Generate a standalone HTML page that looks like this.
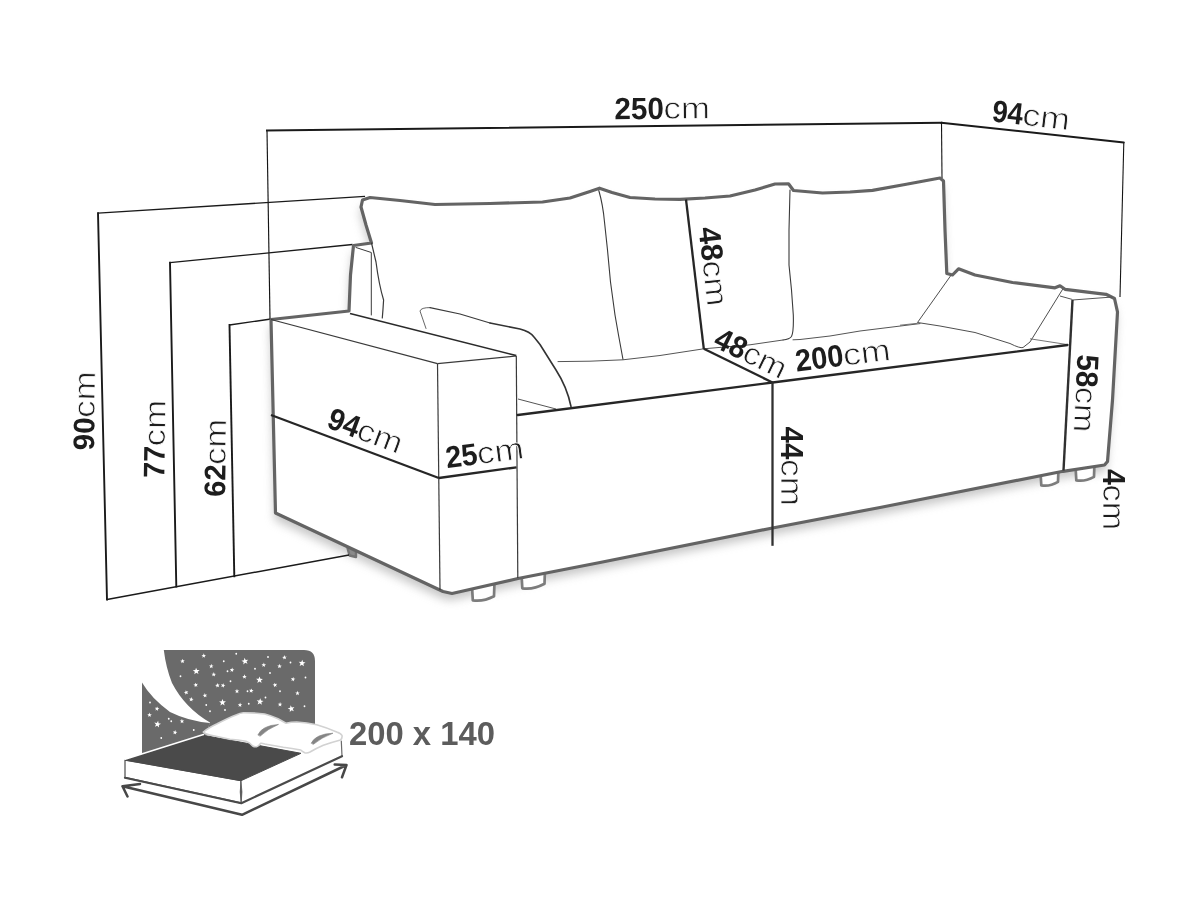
<!DOCTYPE html>
<html lang="en">
<head>
<meta charset="utf-8">
<title>Sofa dimensions</title>
<style>
html,body{margin:0;padding:0;background:#fff;}
body{width:1200px;height:900px;overflow:hidden;}
svg{display:block;will-change:transform;}
</style>
</head>
<body>
<svg width="1200" height="900" viewBox="0 0 1200 900">
<defs><filter id="blur" x="-10%" y="-10%" width="120%" height="130%"><feGaussianBlur stdDeviation="5"/></filter><filter id="blur2" x="-10%" y="-10%" width="120%" height="130%"><feGaussianBlur stdDeviation="1.2"/></filter></defs>
<polygon points="443,591.5 275.5,513 271,319.5 349,311 350.5,275 353.5,245.5 371.5,243 366,225 361,207 362.5,200 370,197.5 400,200.5 435,204.5 490,203.5 542.5,202 570,198 590,191.5 599.5,188.2 612,192.5 630,197.5 655,199 680,199.3 705,198 730,196 755,190 775,184 788.5,183.8 793.5,190.5 822.5,193 850,192 872.5,190.3 905,184.5 940,178 943.5,181 945,230 946.8,273.5 952.5,275 958.5,268.8 975,275 1012.5,282.5 1055,287.8 1060,285.8 1065,289.3 1106,294.3 1114.5,298.5 1117.5,312 1112.5,400 1107.5,461.5 1104.5,465 1063,471.3 880,507.5 772.5,528 600,562.5 518,578.5 452,593.5" transform="translate(-1,7)" fill="#9a9a9a" opacity="0.55" filter="url(#blur)"/>
<path d="M472,586 L472.8,600.3 Q483.25,601.9 494,596.3 L494.5,581" fill="#fff" stroke="#7c7c7c" stroke-width="2.7" stroke-linejoin="round" stroke-linecap="round" />
<path d="M521.5,573.5 L522.3,588.3 Q533.25,589.9 544.5,583.8 L545,568" fill="#fff" stroke="#7c7c7c" stroke-width="2.7" stroke-linejoin="round" stroke-linecap="round" />
<path d="M1040.5,472 L1041.3,485.3 Q1049.5,486.9 1058,481.8 L1058.5,467.5" fill="#fff" stroke="#7c7c7c" stroke-width="2.7" stroke-linejoin="round" stroke-linecap="round" />
<path d="M1075.5,466 L1076.3,480.3 Q1085,481.9 1094,476.8 L1094.5,461.5" fill="#fff" stroke="#7c7c7c" stroke-width="2.7" stroke-linejoin="round" stroke-linecap="round" />
<path d="M347.5,548 L349.5,555.5 L356,557 L356,552" fill="#8a8a8a" stroke="#737373" stroke-width="2.4" stroke-linejoin="round" stroke-linecap="round" />
<polygon points="443,591.5 275.5,513 271,319.5 349,311 350.5,275 353.5,245.5 371.5,243 366,225 361,207 362.5,200 370,197.5 400,200.5 435,204.5 490,203.5 542.5,202 570,198 590,191.5 599.5,188.2 612,192.5 630,197.5 655,199 680,199.3 705,198 730,196 755,190 775,184 788.5,183.8 793.5,190.5 822.5,193 850,192 872.5,190.3 905,184.5 940,178 943.5,181 945,230 946.8,273.5 952.5,275 958.5,268.8 975,275 1012.5,282.5 1055,287.8 1060,285.8 1065,289.3 1106,294.3 1114.5,298.5 1117.5,312 1112.5,400 1107.5,461.5 1104.5,465 1063,471.3 880,507.5 772.5,528 600,562.5 518,578.5 452,593.5" fill="#fff" stroke="none"/>
<line x1="267" y1="130.5" x2="270" y2="319" stroke="#151515" stroke-width="1.15" />
<line x1="1123.8" y1="142.5" x2="1120" y2="297" stroke="#151515" stroke-width="1.1" />
<line x1="267" y1="130.6" x2="941.3" y2="122.8" stroke="#1a1a1a" stroke-width="2" stroke-linecap="square"/>
<line x1="941.3" y1="122.8" x2="1123.8" y2="142.5" stroke="#1a1a1a" stroke-width="2" stroke-linecap="round"/>
<line x1="941.5" y1="122.5" x2="942" y2="178" stroke="#151515" stroke-width="1.1" />
<line x1="98" y1="213.2" x2="107" y2="599.5" stroke="#1a1a1a" stroke-width="1.9" stroke-linecap="square"/>
<line x1="170" y1="262.7" x2="176.3" y2="586.5" stroke="#1a1a1a" stroke-width="1.9" stroke-linecap="square"/>
<line x1="229.5" y1="325" x2="234.3" y2="576.3" stroke="#1a1a1a" stroke-width="1.9" stroke-linecap="square"/>
<line x1="98" y1="213.2" x2="365" y2="196.3" stroke="#1a1a1a" stroke-width="1.35" />
<line x1="170" y1="262.7" x2="352.5" y2="244.5" stroke="#1a1a1a" stroke-width="1.35" />
<line x1="229.5" y1="325" x2="271" y2="319" stroke="#1a1a1a" stroke-width="1.35" />
<line x1="107" y1="599.5" x2="349" y2="555" stroke="#1a1a1a" stroke-width="1.5" />
<polygon points="443,591.5 275.5,513 271,319.5 349,311 350.5,275 353.5,245.5 371.5,243 366,225 361,207 362.5,200 370,197.5 400,200.5 435,204.5 490,203.5 542.5,202 570,198 590,191.5 599.5,188.2 612,192.5 630,197.5 655,199 680,199.3 705,198 730,196 755,190 775,184 788.5,183.8 793.5,190.5 822.5,193 850,192 872.5,190.3 905,184.5 940,178 943.5,181 945,230 946.8,273.5 952.5,275 958.5,268.8 975,275 1012.5,282.5 1055,287.8 1060,285.8 1065,289.3 1106,294.3 1114.5,298.5 1117.5,312 1112.5,400 1107.5,461.5 1104.5,465 1063,471.3 880,507.5 772.5,528 600,562.5 518,578.5 452,593.5" fill="none" stroke="#646464" stroke-width="3.2" stroke-linejoin="round" stroke-linecap="round" />
<line x1="271" y1="319.5" x2="437.5" y2="363.6" stroke="#3a3a3a" stroke-width="1.2" />
<line x1="350" y1="313.5" x2="516.3" y2="355.6" stroke="#2a2a2a" stroke-width="1.6" />
<line x1="437.5" y1="363.6" x2="516.3" y2="356" stroke="#3a3a3a" stroke-width="1.2" />
<line x1="437.5" y1="363.6" x2="440" y2="590" stroke="#3a3a3a" stroke-width="1.2" />
<line x1="516.3" y1="356" x2="517.8" y2="578" stroke="#3a3a3a" stroke-width="1.2" />
<polyline points="356,247.5 371.3,252.5 371.3,315" fill="none" stroke="#3a3a3a" stroke-width="1" stroke-linejoin="round" stroke-linecap="round" />
<path d="M371.5,243 L376,262 Q379,285 383.6,300 Q383,310 382.3,318" fill="none" stroke="#3a3a3a" stroke-width="1.2" stroke-linejoin="round" stroke-linecap="round" />
<path d="M426,328.5 L420,311 Q421,307.5 430,307.6" fill="none" stroke="#555" stroke-width="0.9" stroke-linejoin="round" stroke-linecap="round" />
<path d="M430,307.6 L460,314 L490,323" fill="none" stroke="#3a3a3a" stroke-width="1.2" stroke-linejoin="round" stroke-linecap="round" />
<path d="M490,323 L520,329 Q530,331.5 534,337 L540,344.5 L556,370 Q567,387 571,406.5" fill="none" stroke="#333" stroke-width="1.6" stroke-linejoin="round" stroke-linecap="round" />
<path d="M598.8,190.5 Q603,205 604.5,222 L607.5,250 L610.5,282 L615,315 L618.5,335 L623,359.5" fill="none" stroke="#3a3a3a" stroke-width="1.1" stroke-linejoin="round" stroke-linecap="round" />
<path d="M558,361.6 L590,361.2 L623,359.8 L660,355.5 L703.8,348.8" fill="none" stroke="#555" stroke-width="1" stroke-linejoin="round" stroke-linecap="round" />
<line x1="518" y1="399" x2="556" y2="409" stroke="#555" stroke-width="1" />
<path d="M790,190 L789,230 L789,265 L791.5,290 L793.3,315 Q793.8,332 791.5,336.5 Q789.5,339.3 783,340" fill="none" stroke="#3a3a3a" stroke-width="1.1" stroke-linejoin="round" stroke-linecap="round" />
<path d="M703.8,348.8 L750,344.8 L783,340" fill="none" stroke="#555" stroke-width="1" stroke-linejoin="round" stroke-linecap="round" />
<path d="M793,339.8 L800,339.5 L830,336 L860,331 L920,323.6" fill="none" stroke="#555" stroke-width="1" stroke-linejoin="round" stroke-linecap="round" />
<path d="M950.5,276 L917.5,322.5 L940,326 L975,332.5 L1010,343.5 Q1020,348.5 1023,347.5 L1030,342 L1062.5,289.5" fill="none" stroke="#444" stroke-width="0.95" stroke-linejoin="round" stroke-linecap="round" />
<line x1="1030" y1="338.8" x2="1067.5" y2="344.6" stroke="#666" stroke-width="0.9" />
<line x1="900" y1="325.2" x2="917.5" y2="323.3" stroke="#666" stroke-width="0.9" />
<line x1="1072.5" y1="300" x2="1112.5" y2="297" stroke="#555" stroke-width="1" />
<line x1="1060" y1="296" x2="1072.5" y2="299.5" stroke="#555" stroke-width="1" />
<line x1="271" y1="415" x2="438.8" y2="478" stroke="#262626" stroke-width="2.3" />
<line x1="438.8" y1="478" x2="516.5" y2="467.3" stroke="#262626" stroke-width="2.3" />
<line x1="686" y1="199.5" x2="703.8" y2="348.8" stroke="#262626" stroke-width="2.3" />
<line x1="703.8" y1="348.8" x2="772.5" y2="382.5" stroke="#262626" stroke-width="2.3" />
<polyline points="517.8,415 772.5,382.5 1067.5,345" fill="none" stroke="#262626" stroke-width="2.3" stroke-linejoin="round" stroke-linecap="round" />
<line x1="772.5" y1="382.5" x2="772.5" y2="545.8" stroke="#303030" stroke-width="2.3" />
<line x1="1072.5" y1="300" x2="1063.5" y2="470.5" stroke="#303030" stroke-width="2.4" />
<g transform="translate(614.5,119.3) rotate(-0.5)"><text x="0" y="0" font-family="'Liberation Sans', Arial, sans-serif" font-size="30.8" font-weight="700" fill="#1d1d1d" textLength="49.5" lengthAdjust="spacingAndGlyphs">250</text><text x="49.1" y="0" font-family="'Liberation Sans', Arial, sans-serif" font-size="30.5" font-weight="400" fill="#1d1d1d" stroke="#fff" stroke-width="0.75" textLength="46.5" lengthAdjust="spacingAndGlyphs">cm</text></g>
<g transform="translate(991.2,121.2) rotate(6.7)"><text x="0" y="0" font-family="'Liberation Sans', Arial, sans-serif" font-size="30.8" font-weight="700" fill="#1d1d1d" textLength="31" lengthAdjust="spacingAndGlyphs">94</text><text x="30.6" y="0" font-family="'Liberation Sans', Arial, sans-serif" font-size="30.5" font-weight="400" fill="#1d1d1d" stroke="#fff" stroke-width="0.75" textLength="47.5" lengthAdjust="spacingAndGlyphs">cm</text></g>
<g transform="translate(94,450.5) rotate(-89)"><text x="0" y="0" font-family="'Liberation Sans', Arial, sans-serif" font-size="29.8" font-weight="700" fill="#1d1d1d" textLength="33" lengthAdjust="spacingAndGlyphs">90</text><text x="32.6" y="0" font-family="'Liberation Sans', Arial, sans-serif" font-size="30.5" font-weight="400" fill="#1d1d1d" stroke="#fff" stroke-width="0.75" textLength="46.5" lengthAdjust="spacingAndGlyphs">cm</text></g>
<g transform="translate(164.3,478) rotate(-89)"><text x="0" y="0" font-family="'Liberation Sans', Arial, sans-serif" font-size="29.8" font-weight="700" fill="#1d1d1d" textLength="32" lengthAdjust="spacingAndGlyphs">77</text><text x="31.6" y="0" font-family="'Liberation Sans', Arial, sans-serif" font-size="30.5" font-weight="400" fill="#1d1d1d" stroke="#fff" stroke-width="0.75" textLength="46.5" lengthAdjust="spacingAndGlyphs">cm</text></g>
<g transform="translate(225,497) rotate(-89)"><text x="0" y="0" font-family="'Liberation Sans', Arial, sans-serif" font-size="29.8" font-weight="700" fill="#1d1d1d" textLength="32.5" lengthAdjust="spacingAndGlyphs">62</text><text x="32.1" y="0" font-family="'Liberation Sans', Arial, sans-serif" font-size="30.5" font-weight="400" fill="#1d1d1d" stroke="#fff" stroke-width="0.75" textLength="46" lengthAdjust="spacingAndGlyphs">cm</text></g>
<g transform="translate(325.5,427) rotate(20.5)"><text x="0" y="0" font-family="'Liberation Sans', Arial, sans-serif" font-size="30.8" font-weight="700" fill="#1d1d1d" textLength="32" lengthAdjust="spacingAndGlyphs">94</text><text x="31.6" y="0" font-family="'Liberation Sans', Arial, sans-serif" font-size="30.5" font-weight="400" fill="#1d1d1d" stroke="#fff" stroke-width="0.75" textLength="46" lengthAdjust="spacingAndGlyphs">cm</text></g>
<g transform="translate(447,468.3) rotate(-7.5)"><text x="0" y="0" font-family="'Liberation Sans', Arial, sans-serif" font-size="30.8" font-weight="700" fill="#1d1d1d" textLength="32" lengthAdjust="spacingAndGlyphs">25</text><text x="31.6" y="0" font-family="'Liberation Sans', Arial, sans-serif" font-size="30.5" font-weight="400" fill="#1d1d1d" stroke="#fff" stroke-width="0.75" textLength="47" lengthAdjust="spacingAndGlyphs">cm</text></g>
<g transform="translate(698.5,228) rotate(83.6)"><text x="0" y="0" font-family="'Liberation Sans', Arial, sans-serif" font-size="30.8" font-weight="700" fill="#1d1d1d" textLength="34" lengthAdjust="spacingAndGlyphs">48</text><text x="33.6" y="0" font-family="'Liberation Sans', Arial, sans-serif" font-size="30.5" font-weight="400" fill="#1d1d1d" stroke="#fff" stroke-width="0.75" textLength="46" lengthAdjust="spacingAndGlyphs">cm</text></g>
<g transform="translate(712,346) rotate(26)"><text x="0" y="0" font-family="'Liberation Sans', Arial, sans-serif" font-size="30.8" font-weight="700" fill="#1d1d1d" textLength="32" lengthAdjust="spacingAndGlyphs">48</text><text x="31.6" y="0" font-family="'Liberation Sans', Arial, sans-serif" font-size="30.5" font-weight="400" fill="#1d1d1d" stroke="#fff" stroke-width="0.75" textLength="45" lengthAdjust="spacingAndGlyphs">cm</text></g>
<g transform="translate(796.5,371.5) rotate(-7)"><text x="0" y="0" font-family="'Liberation Sans', Arial, sans-serif" font-size="30.8" font-weight="700" fill="#1d1d1d" textLength="48.5" lengthAdjust="spacingAndGlyphs">200</text><text x="48.1" y="0" font-family="'Liberation Sans', Arial, sans-serif" font-size="30.5" font-weight="400" fill="#1d1d1d" stroke="#fff" stroke-width="0.75" textLength="47.5" lengthAdjust="spacingAndGlyphs">cm</text></g>
<g transform="translate(780.6,426.5) rotate(90)"><text x="0" y="0" font-family="'Liberation Sans', Arial, sans-serif" font-size="31.6" font-weight="700" fill="#1d1d1d" textLength="33" lengthAdjust="spacingAndGlyphs">44</text><text x="32.6" y="0" font-family="'Liberation Sans', Arial, sans-serif" font-size="30.5" font-weight="400" fill="#1d1d1d" stroke="#fff" stroke-width="0.75" textLength="47" lengthAdjust="spacingAndGlyphs">cm</text></g>
<g transform="translate(1077.5,354) rotate(92.8)"><text x="0" y="0" font-family="'Liberation Sans', Arial, sans-serif" font-size="30.8" font-weight="700" fill="#1d1d1d" textLength="33" lengthAdjust="spacingAndGlyphs">58</text><text x="32.6" y="0" font-family="'Liberation Sans', Arial, sans-serif" font-size="30.5" font-weight="400" fill="#1d1d1d" stroke="#fff" stroke-width="0.75" textLength="45.5" lengthAdjust="spacingAndGlyphs">cm</text></g>
<g transform="translate(1102.5,469) rotate(90)"><text x="0" y="0" font-family="'Liberation Sans', Arial, sans-serif" font-size="30.8" font-weight="700" fill="#1d1d1d" textLength="16" lengthAdjust="spacingAndGlyphs">4</text><text x="15.6" y="0" font-family="'Liberation Sans', Arial, sans-serif" font-size="30.5" font-weight="400" fill="#1d1d1d" stroke="#fff" stroke-width="0.75" textLength="45.5" lengthAdjust="spacingAndGlyphs">cm</text></g>
<path d="M163.8,650 L304,650 Q315,650 315,661 L315,740 L205,735 L210,722.5 Q185,708 172,683 Q166,668 163.8,650 Z" fill="#6a6a6a" stroke="none" stroke-width="0" stroke-linejoin="round" stroke-linecap="round" />
<path d="M142,682.5 Q151,698 170,712 Q188,721 210,723 L205,735 L142,756 Z" fill="#6a6a6a" stroke="none" stroke-width="0" stroke-linejoin="round" stroke-linecap="round" />
<polygon points="182.24,658.86 183,660.37 184.69,660.26 183.49,661.45 184.11,663.03 182.61,662.25 181.31,663.33 181.58,661.66 180.15,660.76 181.82,660.5" fill="#fff"/>
<polygon points="203.79,653.35 204.36,654.95 206.05,655.05 204.7,656.08 205.12,657.72 203.73,656.76 202.3,657.67 202.79,656.04 201.48,654.97 203.17,654.92" fill="#fff"/>
<polygon points="196.05,667.66 197.07,669.98 199.61,669.95 197.71,671.64 198.52,674.04 196.33,672.76 194.3,674.27 194.84,671.79 192.77,670.33 195.3,670.08" fill="#fff"/>
<polygon points="211.35,663.85 211.88,665.46 213.56,665.61 212.19,666.6 212.57,668.25 211.21,667.26 209.76,668.13 210.28,666.52 209,665.41 210.69,665.41" fill="#fff"/>
<polygon points="213.88,672.1 214.38,673.72 216.07,673.88 214.69,674.86 215.06,676.51 213.7,675.51 212.24,676.36 212.78,674.76 211.51,673.64 213.2,673.65" fill="#fff"/>
<circle cx="180.5" cy="676.25" r="0.9" fill="#fff"/>
<polygon points="195.32,682.64 196.19,684.09 197.86,683.86 196.75,685.13 197.49,686.65 195.93,685.99 194.71,687.16 194.86,685.48 193.37,684.68 195.02,684.31" fill="#fff"/>
<polygon points="185.76,690.15 186.67,691.58 188.34,691.31 187.25,692.61 188.02,694.12 186.45,693.49 185.26,694.69 185.37,693 183.86,692.24 185.5,691.82" fill="#fff"/>
<polygon points="191.59,697.12 191.95,698.78 193.61,699.09 192.16,699.94 192.37,701.62 191.11,700.5 189.58,701.22 190.26,699.67 189.09,698.44 190.78,698.61" fill="#fff"/>
<polygon points="204.76,693.11 205.51,694.63 207.2,694.53 205.99,695.71 206.6,697.29 205.1,696.5 203.79,697.57 204.08,695.91 202.65,694.99 204.33,694.75" fill="#fff"/>
<circle cx="206.25" cy="705" r="0.9" fill="#fff"/>
<circle cx="210" cy="711.25" r="0.9" fill="#fff"/>
<polygon points="217.23,683.11 218,684.62 219.69,684.51 218.49,685.7 219.12,687.27 217.61,686.5 216.31,687.59 216.58,685.92 215.15,685.02 216.82,684.76" fill="#fff"/>
<polygon points="223.49,683.15 223.75,684.82 225.39,685.24 223.87,686 223.98,687.69 222.79,686.49 221.22,687.11 222,685.61 220.92,684.3 222.59,684.58" fill="#fff"/>
<polygon points="222.46,698.9 223.37,701.27 225.91,701.34 223.94,702.95 224.65,705.39 222.52,704.01 220.42,705.44 221.07,702.99 219.06,701.43 221.6,701.29" fill="#fff"/>
<circle cx="223.75" cy="661.25" r="0.9" fill="#fff"/>
<circle cx="227.5" cy="671.25" r="0.9" fill="#fff"/>
<polygon points="232.34,667.62 232.7,669.28 234.36,669.59 232.91,670.44 233.12,672.12 231.86,671 230.33,671.72 231.01,670.17 229.84,668.95 231.53,669.11" fill="#fff"/>
<circle cx="230.5" cy="681.25" r="0.9" fill="#fff"/>
<circle cx="236.25" cy="653.75" r="0.9" fill="#fff"/>
<polygon points="236.98,688.85 237.58,690.43 239.28,690.49 237.96,691.55 238.43,693.18 237.01,692.26 235.61,693.21 236.04,691.57 234.71,690.53 236.4,690.44" fill="#fff"/>
<circle cx="225" cy="710" r="0.9" fill="#fff"/>
<polygon points="240.14,702.6 240.64,704.22 242.32,704.39 240.94,705.37 241.3,707.02 239.94,706.01 238.48,706.86 239.02,705.26 237.76,704.13 239.46,704.15" fill="#fff"/>
<polygon points="244.48,657.69 245.7,659.91 248.22,659.65 246.49,661.5 247.52,663.82 245.22,662.75 243.33,664.44 243.65,661.92 241.45,660.65 243.94,660.17" fill="#fff"/>
<polygon points="244.64,674.35 245.14,675.97 246.82,676.14 245.44,677.12 245.8,678.77 244.44,677.76 242.98,678.61 243.53,677.01 242.26,675.88 243.95,675.9" fill="#fff"/>
<circle cx="247.5" cy="691.25" r="0.9" fill="#fff"/>
<polygon points="251.62,688.38 251.96,690.04 253.62,690.37 252.15,691.21 252.35,692.89 251.1,691.75 249.56,692.45 250.25,690.91 249.11,689.67 250.79,689.85" fill="#fff"/>
<circle cx="248.75" cy="703.75" r="0.9" fill="#fff"/>
<circle cx="255" cy="668.75" r="0.9" fill="#fff"/>
<polygon points="259.53,676.4 260.4,678.79 262.93,678.92 260.93,680.48 261.59,682.93 259.49,681.51 257.36,682.89 258.06,680.45 256.09,678.85 258.62,678.77" fill="#fff"/>
<polygon points="260.36,698.17 261.01,700.62 263.52,700.99 261.38,702.36 261.81,704.86 259.85,703.25 257.6,704.43 258.52,702.07 256.71,700.3 259.24,700.44" fill="#fff"/>
<polygon points="263.92,662.61 264.4,664.23 266.08,664.42 264.68,665.38 265.02,667.04 263.68,666.01 262.2,666.84 262.77,665.24 261.53,664.1 263.22,664.14" fill="#fff"/>
<circle cx="265.5" cy="697.5" r="0.9" fill="#fff"/>
<circle cx="270" cy="673" r="0.9" fill="#fff"/>
<circle cx="268" cy="657" r="0.9" fill="#fff"/>
<polygon points="274.56,682.64 275.43,684.09 277.11,683.86 276,685.13 276.74,686.65 275.18,685.99 273.97,687.17 274.11,685.48 272.62,684.69 274.27,684.31" fill="#fff"/>
<polygon points="279.76,663.86 280.18,665.5 281.85,665.76 280.42,666.66 280.69,668.33 279.39,667.25 277.89,668.03 278.51,666.46 277.31,665.27 279,665.38" fill="#fff"/>
<circle cx="280" cy="691.25" r="0.9" fill="#fff"/>
<polygon points="280.09,702.1 280.62,703.71 282.31,703.85 280.95,704.85 281.34,706.49 279.96,705.51 278.52,706.39 279.03,704.77 277.75,703.67 279.44,703.66" fill="#fff"/>
<polygon points="284.3,655.11 285.02,656.64 286.71,656.57 285.48,657.73 286.07,659.32 284.58,658.5 283.26,659.55 283.57,657.89 282.16,656.95 283.84,656.74" fill="#fff"/>
<polygon points="290.55,705.22 291.88,707.38 294.39,706.99 292.75,708.93 293.89,711.19 291.55,710.23 289.74,712.02 289.93,709.49 287.67,708.33 290.14,707.72" fill="#fff"/>
<polygon points="293.37,676.88 293.71,678.53 295.37,678.87 293.9,679.7 294.1,681.38 292.85,680.25 291.31,680.95 292.01,679.41 290.86,678.17 292.54,678.35" fill="#fff"/>
<circle cx="290.5" cy="662.5" r="0.9" fill="#fff"/>
<polygon points="297.47,690.85 298.08,692.43 299.77,692.48 298.46,693.55 298.93,695.18 297.51,694.26 296.11,695.21 296.54,693.57 295.21,692.53 296.9,692.44" fill="#fff"/>
<polygon points="302.33,659.67 303,662.11 305.51,662.46 303.39,663.85 303.84,666.34 301.86,664.76 299.63,665.96 300.53,663.58 298.69,661.83 301.23,661.95" fill="#fff"/>
<circle cx="305.5" cy="677.5" r="0.9" fill="#fff"/>
<circle cx="304.5" cy="706.25" r="0.9" fill="#fff"/>
<circle cx="150" cy="702.5" r="0.9" fill="#fff"/>
<polygon points="157.38,706.38 157.71,708.04 159.37,708.38 157.9,709.21 158.09,710.89 156.84,709.75 155.3,710.44 156,708.91 154.86,707.66 156.54,707.85" fill="#fff"/>
<polygon points="149.71,712.61 150.16,714.24 151.84,714.47 150.43,715.4 150.73,717.06 149.41,716 147.92,716.81 148.52,715.22 147.29,714.06 148.98,714.13" fill="#fff"/>
<polygon points="158.13,720.71 158.59,723.2 161.07,723.76 158.83,724.96 159.07,727.49 157.23,725.74 154.91,726.75 156,724.46 154.32,722.55 156.84,722.89" fill="#fff"/>
<circle cx="168.75" cy="718.75" r="0.9" fill="#fff"/>
<circle cx="171.25" cy="721.25" r="0.9" fill="#fff"/>
<polygon points="181.89,718.85 182.56,720.41 184.25,720.41 182.97,721.52 183.49,723.13 182.04,722.26 180.68,723.25 181.06,721.6 179.69,720.61 181.37,720.46" fill="#fff"/>
<polygon points="175.3,730.12 175.69,731.77 177.36,732.05 175.91,732.93 176.16,734.6 174.87,733.5 173.36,734.25 174.01,732.69 172.83,731.48 174.51,731.62" fill="#fff"/>
<circle cx="161.25" cy="738" r="0.9" fill="#fff"/>
<circle cx="193.75" cy="730" r="0.9" fill="#fff"/>
<polygon points="125,760 241,780.7 241.3,803 125,777.5" fill="#fff" stroke="#5a5a5a" stroke-width="1.3" stroke-linejoin="round"/>
<polygon points="241,780.7 341.3,741 342,756 241.3,803" fill="#fff" stroke="none"/>
<path d="M341.3,741 L342,756" fill="none" stroke="#6a6a6a" stroke-width="1.2" stroke-linejoin="round" stroke-linecap="round" />
<polygon points="125,760 203.5,735.3 301,753.3 241,780.7" fill="#4a4a4a" stroke="#4a4a4a" stroke-width="1" stroke-linejoin="round"/>
<path d="M125,759.2 L203.5,734.5" fill="none" stroke="#fff" stroke-width="1.5" stroke-linejoin="round" stroke-linecap="round" />
<path d="M125,777.8 L241.3,803.2 L342,756.2" fill="none" stroke="#4a4a4a" stroke-width="2.2" stroke-linejoin="round" stroke-linecap="round" />
<path d="M241,781.5 Q239.3,792 241.2,802.5 Q242.8,792 241,781.5 Z" fill="#555" stroke="#555" stroke-width="0.8" stroke-linejoin="round" stroke-linecap="round" />
<path d="M203.3,732 Q208,728 216.7,724 Q228,718 236.7,714.7 Q240,713 243.3,712.7 Q254,712.6 264.7,714 Q272,716 278,718.7 L286,723.3 Q291,722 296.7,722 Q307,722.5 316.7,724.7 Q328,728 336.7,732 Q341,733.5 342,735.5 Q342.5,738 340.5,740 Q331,742.5 323.3,745.3 Q316,748.5 310,752 Q307,753.5 304.7,752.7 Q302,751.5 300.7,750 Q292,748.3 283.3,747.3 L264.7,744 Q262,743 260.7,743.3 Q258.5,746.5 256.7,746.7 Q254.5,747 252.7,746 Q250,742.5 246,741.3 Q238,740 230,739.3 L210,735 Q205,734 203.3,732 Z" fill="#fff" stroke="#d2d2d2" stroke-width="1.6" stroke-linejoin="round" stroke-linecap="round" />
<path d="M258,734.7 Q262,725.5 278.5,724.4 Q267.5,729 260.3,736 Z" fill="#858585" stroke="#858585" stroke-width="0.6" stroke-linejoin="round" stroke-linecap="round" />
<path d="M311.3,742.9 Q316,733.8 333,733.2 Q321.5,737.5 313.5,744.2 Z" fill="#858585" stroke="#858585" stroke-width="0.6" stroke-linejoin="round" stroke-linecap="round" />
<path d="M140,784 L122.5,786.3 L127.5,796.5 M122.5,786.3 L242,814.8 L346.5,765 M334.7,764.5 L346.5,765 L342,777.3" fill="none" stroke="#474747" stroke-width="2.5" stroke-linejoin="round" stroke-linecap="round" />
<text x="349" y="745.3" font-family="'Liberation Sans', Arial, sans-serif" font-size="32.5" font-weight="700" fill="#5c5c5c" textLength="146" lengthAdjust="spacingAndGlyphs">200 x 140</text>
</svg>
</body>
</html>
